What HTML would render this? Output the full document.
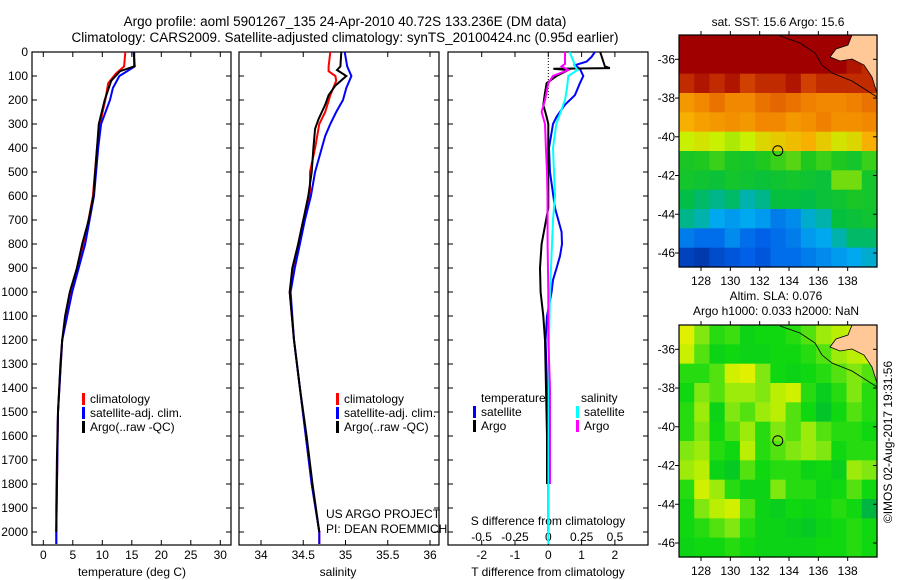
<!DOCTYPE html>
<html><head><meta charset="utf-8"><style>
html,body{margin:0;padding:0;background:#fff;}
svg{display:block;font-family:"Liberation Sans",sans-serif;}
text{font-size:12px;fill:#000;}
</style></head><body>
<svg id="fig" width="900" height="580" viewBox="0 0 900 580" xmlns="http://www.w3.org/2000/svg">
<text x="345" y="26" text-anchor="middle" style="font-size:13.5px">Argo profile: aoml 5901267_135 24-Apr-2010 40.72S 133.236E (DM data)</text>
<text x="345" y="42" text-anchor="middle" style="font-size:13.5px">Climatology: CARS2009. Satellite-adjusted climatology: synTS_20100424.nc (0.95d earlier)</text>
<text x="778" y="26" text-anchor="middle">sat. SST: 15.6 Argo: 15.6</text>
<text x="776" y="300" text-anchor="middle">Altim. SLA: 0.076</text>
<text x="776" y="315" text-anchor="middle">Argo h1000: 0.033 h2000: NaN</text>
<text transform="translate(892,442) rotate(-90)" text-anchor="middle">©IMOS 02-Aug-2017 19:31:56</text>
<g id="plots"></g>
</svg>
<script>
// ---- profile data ----
const tDepth = [0,60,80,120,200,300,400,500,600,700,800,900,1000,1100,1200,1300,1400,1500,1700,1900,2000];
const tArgo  = [15.4,15.4,13.0,11.5,10.4,9.4,9.1,8.8,8.5,7.7,6.6,5.7,4.5,3.7,3.2,2.9,2.7,2.5,2.3,2.2,2.2];
const tClimDepth = [0,60,90,130,200,300,400,600,800,1000,1200,1500,2000,2050];
const tClim  = [13.9,13.7,12.3,11.0,10.5,9.6,9.1,8.4,6.9,4.7,3.2,2.5,2.2,2.2];
const tSat   = [15.3,15.5,12.9,11.8,11.3,9.8,9.3,8.6,7.1,4.9,3.2,2.5,2.2,2.2];
const tSatDepth = [0,60,100,150,200,300,400,600,800,1000,1200,1500,2000,2050];

const sClimDepth = [0,60,80,100,120,180,250,300,400,500,600,700,800,900,1000,1200,1400,1600,1800,2000,2050];
const sClim = [34.82,34.80,34.80,34.88,34.89,34.82,34.76,34.69,34.64,34.58,34.58,34.50,34.44,34.38,34.34,34.39,34.46,34.53,34.60,34.69,34.69];
const sArgoDepth = [0,60,75,100,140,180,220,280,320,400,500,600,700,800,900,1000,1200,1400,1600,1800,2000];
const sArgo = [34.95,34.94,34.90,35.01,34.88,34.80,34.76,34.68,34.64,34.62,34.60,34.56,34.50,34.44,34.37,34.34,34.39,34.46,34.54,34.61,34.69];
const sSatDepth = [0,60,100,150,200,250,300,350,400,500,600,700,800,900,1000,1200,1400,1600,1800,2000,2050];
const sSat = [34.99,35.02,35.07,35.01,34.97,34.89,34.82,34.76,34.72,34.64,34.59,34.52,34.46,34.40,34.35,34.39,34.46,34.53,34.60,34.69,34.69];

const dTArgoDepth = [0,60,67,70,75,100,130,170,220,270,300,650,800,900,1000,1100,1200,1400,1600,1800];
const dTArgo = [1.56,1.7,1.85,0.15,0.6,0.25,-0.05,-0.1,-0.15,-0.05,0.0,0.0,-0.2,-0.25,-0.23,-0.15,-0.1,-0.07,-0.04,-0.04];
const dTSatDepth = [0,20,40,55,70,100,130,180,220,270,300,400,500,650,700,750,800,850,900,950,1000,1100,1200,1400,1600,2000];
const dTSat = [1.4,1.3,1.15,0.8,0.95,1.05,0.95,0.8,0.5,0.25,0.14,0.02,0.05,0.2,0.3,0.4,0.41,0.35,0.25,0.14,0.1,-0.04,-0.08,-0.04,0.0,0.0];
const dSArgoDepth = [0,50,60,75,100,130,200,250,300,400,500,600,800,1000,1200,1400,1800];
const dSArgo = [0.125,0.125,0.1,0.15,0.035,0.0,-0.025,-0.05,-0.025,-0.018,-0.01,-0.006,-0.005,0.0,0.0,0.013,0.013];
const dSSatDepth = [0,40,60,75,100,150,200,300,400,600,700,800,1000,1200,1500,2000,2050];
const dSSat = [0.16,0.19,0.2,0.22,0.15,0.14,0.125,0.06,0.035,0.05,0.035,0.028,0.013,0.005,0.002,0.0,0.0];

const depthTicks = [0,100,200,300,400,500,600,700,800,900,1000,1100,1200,1300,1400,1500,1600,1700,1800,1900,2000];
const tTicks = [0,5,10,15,20,25,30];
const sTicks = [34,34.5,35,35.5,36];
const dTTicks = [-2,-1,0,1,2];
const dSTicks = [-0.5,-0.25,0,0.25,0.5];

// ---- map data ----
const sstGrid = [
[17.4,17.4,17.4,17.4,17.4,17.3,17.4,17.4,17.3,17.3,17.3,17.2,17.2],
[17.3,17.2,17.4,17.3,17.2,17.3,17.3,17.3,17.2,17.3,17.2,17.1,17.0],
[17.0,17.1,17.0,17.1,16.9,17.0,17.0,17.1,16.9,17.0,17.0,17.0,17.0],
[16.1,16.3,16.5,16.3,16.3,16.5,16.6,16.5,16.4,16.3,16.3,16.4,16.5],
[15.8,16.0,16.1,16.2,16.1,16.3,16.3,16.1,16.2,16.4,16.2,16.2,16.3],
[15.3,15.4,15.3,15.2,15.3,15.5,15.6,15.7,15.8,15.6,15.4,15.5,15.8],
[14.6,14.7,14.8,14.6,14.5,14.7,14.8,14.9,14.7,14.8,14.7,14.5,14.8],
[14.5,14.4,14.3,14.5,14.4,14.3,14.4,14.5,14.4,14.3,15.0,15.0,14.5],
[14.1,14.0,13.9,14.0,13.8,13.9,14.2,14.2,14.1,14.3,14.4,14.6,14.5],
[13.9,13.8,13.6,13.5,13.6,13.5,13.3,13.4,13.7,13.8,14.2,14.3,14.4],
[13.3,13.2,13.2,13.4,13.2,13.1,13.2,13.3,13.5,13.6,13.8,14.0,14.0],
[12.8,12.7,12.9,13.0,13.1,13.0,13.2,13.2,13.3,13.4,13.5,13.6,13.7]];
const slaGrid = [
[.18,.10,.06,.07,.04,.05,.05,.06,.08,.12,.14,.15,.15],
[.15,.08,.04,.05,.04,.04,.05,.05,.06,.08,.12,.14,.15],
[.06,.06,.08,.16,.18,.10,.05,.04,.05,.06,.08,.10,.08],
[.05,.10,.08,.12,.12,.10,.14,.16,.06,.03,.06,.10,.06],
[.06,.12,.04,.10,.08,.12,.14,.08,.05,.01,.05,.08,.06],
[.06,.10,.05,.08,.12,.06,.10,.08,.12,.08,.06,.06,.05],
[.10,.12,.06,.05,.14,.06,.08,.10,.12,.10,.05,.06,.06],
[.12,.14,.04,.02,.08,.05,.06,.06,.04,.05,.03,.12,.10],
[.06,.16,.12,.06,.04,.04,.10,.06,.06,.04,.05,.08,.05],
[.05,.10,.14,.16,.08,.04,.03,.05,.04,.05,.06,.05,-.02],
[.05,.06,.08,.10,.06,.04,.04,.03,.02,.04,.05,.06,.05],
[.04,.05,.05,.06,.05,.04,.04,.04,.04,.05,.05,.06,.05]];
const latTicks = [-36,-38,-40,-42,-44,-46];
const lonTicks = [128,130,132,134,136,138];
const argoLon = 133.236, argoLat = -40.72;

const NS = "http://www.w3.org/2000/svg";
const root = document.getElementById('plots');
function el(tag, attrs, parent, txt){
  const e = document.createElementNS(NS, tag);
  for (const k in attrs) e.setAttribute(k, attrs[k]);
  if (txt !== undefined) e.textContent = txt;
  (parent||root).appendChild(e);
  return e;
}
const yD = d => 52 + 0.24*d;
const xT = t => 43.3 + 5.9*t;
const xS = s => 261 + 84.5*(s-34);
const xDT = v => 548.3 + 33.3*v;
const xDS = v => 548.3 + 133.3*v;

function frame(x0,x1,name){
  const r = el('rect',{x:x0,y:52,width:x1-x0,height:493,fill:'none',stroke:'#000','stroke-width':1.2});
  
  
}
function xticks(vals, fx, y, name){
  const g = el('g',{});
  
  
  vals.forEach(v=>{
    const x = fx(v);
    el('line',{x1:x,x2:x,y1:52,y2:57,stroke:'#000'},g);
    el('line',{x1:x,x2:x,y1:545,y2:540,stroke:'#000'},g);
    const t = el('text',{x:x,y:y,'text-anchor':'middle'},g,String(v));
    
    
  });
}
function line(depths, vals, fx, color, name, w){
  const pts = depths.map((d,i)=>fx(vals[i]).toFixed(1)+','+yD(d).toFixed(1)).join(' ');
  const p = el('polyline',{points:pts,fill:'none',stroke:color,'stroke-width':w||2});
  
  
}
function legend(x, y, color, label, name){
  el('rect',{x:x,y:y-10,width:3,height:12,fill:color});
  const t = el('text',{x:x+8,y:y},root,label);
  
  
}

// depth axis
const dg = el('g',{});


depthTicks.forEach(d=>{
  const t = el('text',{x:28,y:yD(d)+4,'text-anchor':'end'},dg,String(d));
  
  
  [[32,37],[231,226],[239,244],[439,434],[448,453],[648,643]].forEach(p=>el('line',{x1:p[0],x2:p[1],y1:yD(d),y2:yD(d),stroke:'#000'},dg));
});

// Panel 1 temperature
frame(32,231,'temperature-panel');
xticks(tTicks, xT, 559, 'temperature-x-axis');
el('text',{x:132,y:576,'text-anchor':'middle'},root,'temperature (deg C)');
line(tClimDepth,tClim,xT,'#ff0000','temp-climatology-line');
line(tSatDepth,tSat,xT,'#0000ff','temp-satellite-line');
line(tDepth,tArgo,xT,'#000000','temp-argo-line');
legend(82,403,'#ff0000','climatology','temp-legend-climatology');
legend(82,417,'#0000ff','satellite-adj. clim.','temp-legend-satellite');
legend(82,431,'#000000','Argo(..raw -QC)','temp-legend-argo');

// Panel 2 salinity
frame(239,439,'salinity-panel');
xticks(sTicks, xS, 559, 'salinity-x-axis');
el('text',{x:338,y:576,'text-anchor':'middle'},root,'salinity');
line(sClimDepth,sClim,xS,'#ff0000','sal-climatology-line');
line(sSatDepth,sSat,xS,'#0000ff','sal-satellite-line');
line(sArgoDepth,sArgo,xS,'#000000','sal-argo-line');
legend(336,403,'#ff0000','climatology','sal-legend-climatology');
legend(336,417,'#0000ff','satellite-adj. clim.','sal-legend-satellite');
legend(336,431,'#000000','Argo(..raw -QC)','sal-legend-argo');
el('text',{x:326,y:518},root,'US ARGO PROJECT');
el('text',{x:326,y:533},root,'PI: DEAN ROEMMICH');

// Panel 3 differences
frame(448,648,'difference-panel');
xticks(dTTicks, xDT, 559, 'dt-x-axis');
el('line',{x1:548.3,x2:548.3,y1:52,y2:100,stroke:'#000','stroke-dasharray':'1,2'});
el('text',{x:548,y:576,'text-anchor':'middle'},root,'T difference from climatology');
el('text',{x:548,y:525,'text-anchor':'middle'},root,'S difference from climatology');
dSTicks.forEach(v=>{
  const t = el('text',{x:xDS(v),y:541,'text-anchor':'middle'},root,String(v));
  
  
});
line(dTSatDepth,dTSat,xDT,'#0000ff','dt-satellite-line');
line(dTArgoDepth,dTArgo,xDT,'#000000','dt-argo-line');
line(dSSatDepth,dSSat,xDS,'#00ffff','ds-satellite-line');
line(dSArgoDepth,dSArgo,xDS,'#ff00ff','ds-argo-line');
el('text',{x:481,y:402},root,'temperature');
el('text',{x:581,y:402},root,'salinity');
legend(473,416,'#0000ff','satellite','diff-legend-t-satellite');
legend(473,430,'#000000','Argo','diff-legend-t-argo');
legend(576,416,'#00ffff','satellite','diff-legend-s-satellite');
legend(576,430,'#ff00ff','Argo','diff-legend-s-argo');

// ---- maps ----
function interp(stops, v){
  if (v<=stops[0][0]) { const c=stops[0][1]; return 'rgb('+c.join(',')+')'; }
  for (let i=1;i<stops.length;i++){
    if (v<=stops[i][0]){
      const a=stops[i-1], b=stops[i], f=(v-a[0])/(b[0]-a[0]);
      return 'rgb('+[0,1,2].map(k=>Math.round(a[1][k]+(b[1][k]-a[1][k])*f)).join(',')+')';
    }
  }
  const c = stops[stops.length-1][1]; return 'rgb('+c.join(',')+')';
}
const sstStops = [[12.6,[0,48,160]],[13.1,[0,96,232]],[13.6,[0,168,240]],[14.1,[0,190,70]],[14.7,[30,200,30]],[15.3,[200,240,0]],[15.8,[248,176,0]],[16.4,[240,128,0]],[16.9,[208,64,0]],[17.2,[160,0,0]]];
const slaStops = [[-0.05,[0,168,96]],[0.0,[0,192,48]],[0.05,[16,216,16]],[0.1,[128,232,16]],[0.15,[200,240,0]],[0.2,[240,240,0]]];

function drawMap(top, grid, stops, name){
  const left=679, right=877, bottom=top+232;
  const lonMin=126.5, lonMax=140.0, latTop=-36+(24.3/19.37), latBot=-46-(14/19.37);
  const xL = lon => left + (lon-lonMin)/(lonMax-lonMin)*(right-left);
  const yL = lat => top + (latTop-lat)/(latTop-latBot)*(bottom-top);
  const g = el('g',{});
  
  
  const nr = grid.length, nc = grid[0].length;
  const dLat=(latTop-latBot)/nr, dLon=(lonMax-lonMin)/nc;
  grid.forEach((row,r)=>row.forEach((v,c)=>{
    const x0=xL(lonMin+c*dLon), x1=xL(lonMin+(c+1)*dLon);
    const y0=yL(latTop-r*dLat), y1=yL(latTop-(r+1)*dLat);
    const cell = el('rect',{x:x0.toFixed(2),y:y0.toFixed(2),width:(x1-x0+0.6).toFixed(2),height:(y1-y0+0.6).toFixed(2),fill:interp(stops,v)},g);
    
    
  }));
  const land = el('polygon',{points:[[852,0],[877,0],[877,58],[872,42],[864,30],[852,24],[840,26],[830,22],[836,14],[848,10]].map(p=>p[0]+','+(top+p[1])).join(' '),fill:'#ffc896',stroke:'#000','stroke-width':0.8},g);
  
  
  el('polyline',{points:[[780,1],[800,8],[815,18],[822,30],[832,38],[852,46],[877,62]].map(p=>p[0]+','+(top+p[1])).join(' '),fill:'none',stroke:'#000','stroke-width':0.8},g);
  el('rect',{x:left,y:top,width:right-left,height:bottom-top,fill:'none',stroke:'#000','stroke-width':1.2},g);
  latTicks.forEach(l=>{
    const y=yL(l);
    el('line',{x1:left,x2:left-4,y1:y,y2:y,stroke:'#000'},g);
    el('line',{x1:right,x2:right-4,y1:y,y2:y,stroke:'#000'},g);
    el('text',{x:left-4,y:y+4,'text-anchor':'end'},g,String(l));
  });
  lonTicks.forEach(l=>{
    const x=xL(l);
    el('line',{x1:x,x2:x,y1:top,y2:top-4,stroke:'#000'},g);
    el('line',{x1:x,x2:x,y1:bottom,y2:bottom+4,stroke:'#000'},g);
    el('text',{x:x,y:bottom+18,'text-anchor':'middle'},g,String(l));
  });
  const c = el('circle',{cx:xL(argoLon),cy:yL(argoLat),r:5,fill:'none',stroke:'#000','stroke-width':1},g);
  
  
}
drawMap(35, sstGrid, sstStops, 'sst-map');
drawMap(325, slaGrid, slaStops, 'sla-map');
</script>
</body></html>
